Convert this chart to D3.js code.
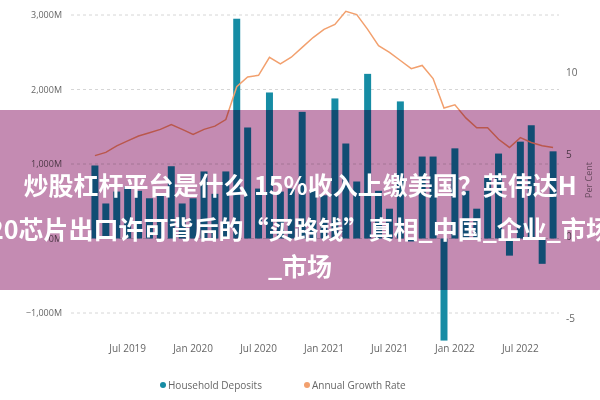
<!DOCTYPE html>
<html><head><meta charset="utf-8">
<script src="https://cdn.jsdelivr.net/npm/d3@7"></script>
<style>body{margin:0;background:#fff}svg{display:block;font-family:"Open Sans",sans-serif}</style>
</head><body><svg id="c" width="600" height="400"></svg>
<script>
const months = ["2019-04","2019-05","2019-06","2019-07","2019-08","2019-09","2019-10","2019-11","2019-12",
"2020-01","2020-02","2020-03","2020-04","2020-05","2020-06","2020-07","2020-08","2020-09","2020-10","2020-11","2020-12",
"2021-01","2021-02","2021-03","2021-04","2021-05","2021-06","2021-07","2021-08","2021-09","2021-10","2021-11","2021-12",
"2022-01","2022-02","2022-03","2022-04","2022-05","2022-06","2022-07","2022-08","2022-09","2022-10"];
const deposits = [980,470,630,700,640,540,600,970,470,540,900,600,900,2950,1490,670,1960,630,670,1700,640,
580,1880,1275,765,2210,640,400,1840,-40,1100,1100,-1370,1210,640,400,830,1140,-230,1300,1520,-340,1170];
const growth = [4.9,5.1,5.5,5.8,6.1,6.3,6.5,6.8,6.5,6.2,6.5,6.7,7.1,9.1,9.7,9.8,10.9,10.5,10.9,11.5,12.1,12.6,12.9,13.7,13.5,
12.6,11.6,11.2,10.7,10.2,10.4,9.6,7.8,8.0,7.2,6.6,6.6,5.9,5.4,6.0,5.7,5.5,5.4];
const leftTicks = [-1000,0,1000,2000,3000];
const rightTicks = [-5,0,5,10];
const xTicks = ["2019-07","2020-01","2020-07","2021-01","2021-07","2022-01","2022-07"];
const xTickLabels = ["Jul 2019","Jan 2020","Jul 2020","Jan 2021","Jul 2021","Jan 2022","Jul 2022"];
const titleLines = ["炒股杠杆平台是什么 15%收入上缴美国？英伟达H","20芯片出口许可背后的“买路钱”真相_中国_企业_市场","_市场"];
const legendItems = ["Household Deposits","Annual Growth Rate"];
const colors = ["#168ca4","#f2a06e"];

const svg = d3.select("#c");
const x = d3.scaleBand().domain(months).range([87.5,560.5]).padding(0.36);
const yL = d3.scaleLinear().domain([-1000,3000]).range([313,15]);
const yR = d3.scaleLinear().domain([-5,10]).range([318,72]);

svg.append("g").selectAll("line").data(leftTicks).join("line")
  .attr("x1",71).attr("x2",559).attr("y1",d=>yL(d)).attr("y2",d=>yL(d))
  .attr("stroke","#d6d6d6").attr("stroke-dasharray","3,3");
svg.append("g").selectAll("text").data(leftTicks).join("text")
  .attr("x",62).attr("y",d=>yL(d)+3).attr("text-anchor","end").attr("font-size",9).attr("fill","#666")
  .text(d=>d3.format(",")(d)+"M");
svg.append("g").selectAll("text").data(rightTicks).join("text")
  .attr("x",566).attr("y",d=>yR(d)+4).attr("font-size",10).attr("fill","#666").text(d=>d);
svg.append("text").attr("transform","translate(592,180) rotate(-90)").attr("text-anchor","middle")
  .attr("font-size",9).attr("fill","#888").text("Per Cent");

svg.append("g").selectAll("rect").data(months).join("rect")
  .attr("x",d=>x(d)).attr("width",x.bandwidth())
  .attr("y",(d,i)=>yL(Math.max(0,deposits[i]))).attr("height",(d,i)=>Math.abs(yL(deposits[i])-yL(0)))
  .attr("fill",colors[0]);
const line = d3.line().x((d,i)=>x(months[i])+x.bandwidth()/2).y(d=>yR(d));
svg.append("path").datum(growth).attr("d",line).attr("fill","none").attr("stroke",colors[1]).attr("stroke-width",1.5);

svg.append("g").selectAll("text").data(xTicks).join("text")
  .attr("x",d=>x(d)+x.bandwidth()/2).attr("y",352).attr("text-anchor","middle")
  .attr("font-size",10).attr("fill","#666").text((d,i)=>xTickLabels[i]);

const lg = svg.append("g").attr("font-size",10).attr("fill","#666");
const lx = [163,307];
legendItems.forEach((t,i)=>{
  lg.append("circle").attr("cx",lx[i]).attr("cy",385).attr("r",3).attr("fill",colors[i]);
  lg.append("text").attr("x",lx[i]+5).attr("y",388.5).text(t);
});

svg.append("rect").attr("x",0).attr("y",110).attr("width",600).attr("height",180)
  .attr("fill","#c48bb2").style("mix-blend-mode","multiply");
const ty = [195,239,276];
svg.append("g").selectAll("text").data(titleLines).join("text")
  .attr("x",300).attr("y",(d,i)=>ty[i]).attr("text-anchor","middle")
  .attr("font-family","'Noto Sans CJK SC'").attr("font-weight","bold").attr("font-size",25).attr("fill","#fff")
  .text(d=>d);
</script></body></html>
